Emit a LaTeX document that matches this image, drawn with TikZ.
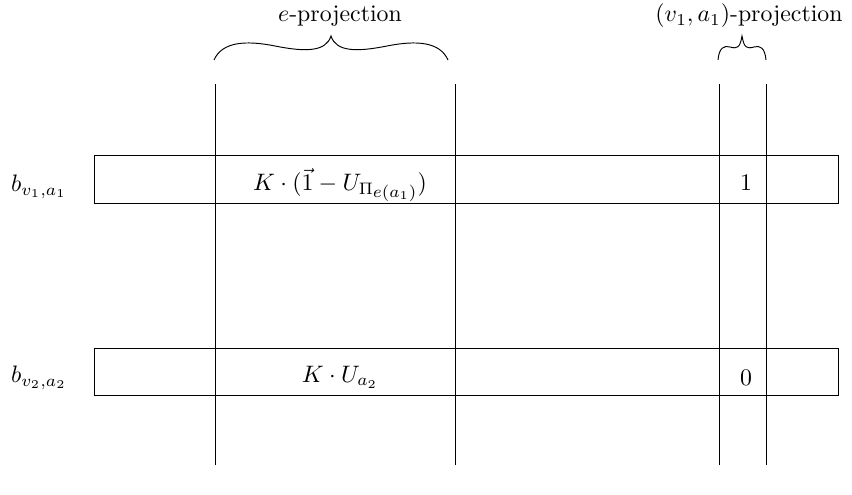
\documentclass[tikz,border=0pt]{standalone}
\begin{document}
\begin{tikzpicture}[x=0.42pt,y=-0.42pt]
\useasboundingbox (0,0) rectangle (852,495);
% column borders
\foreach \x in {215,455,719,766}
  \draw (\x,84) -- (\x,465);
% the two rows
\draw (94,155) rectangle (838,203);
\draw (94,348) rectangle (838,395);
\node (rowA) at (39,187) {$b_{v_1,a_1}$};
\node (rowB) at (39,378) {$b_{v_2,a_2}$};
\node (cellA) at (340,185) {$K\cdot(\vec{1}-U_{\Pi\lower1.2pt\hbox{$\scriptstyle e(a_1)$}})$};
\node (cellB) at (340,377) {$K\cdot U_{a_2}$};
\node (oneA) at (746,183) {$1$};
\node (zeroB) at (746,378) {$0$};
% projections
\coordinate (eL) at (214,60);
\coordinate (eR) at (448,60);
\coordinate (vL) at (718,60);
\coordinate (vR) at (766,60);
\draw (eL) .. controls (222,42) and (245,40) .. (275,46)
  .. controls (305,52) and (326,52) .. (331,36)
  .. controls (336,52) and (357,52) .. (387,46)
  .. controls (417,40) and (440,42) .. (eR);
\draw (vL) .. controls (719,48) and (724,45) .. (730,47)
  .. controls (737,49) and (740,48) .. (742,36)
  .. controls (744,48) and (747,49) .. (754,47)
  .. controls (760,45) and (765,48) .. (vR);
\node (eproj) at (340,16) {$e$-projection};
\node[anchor=east] (vproj) at (851,16) {$(v_1,a_1)$-projection};
\end{tikzpicture}
\end{document}
